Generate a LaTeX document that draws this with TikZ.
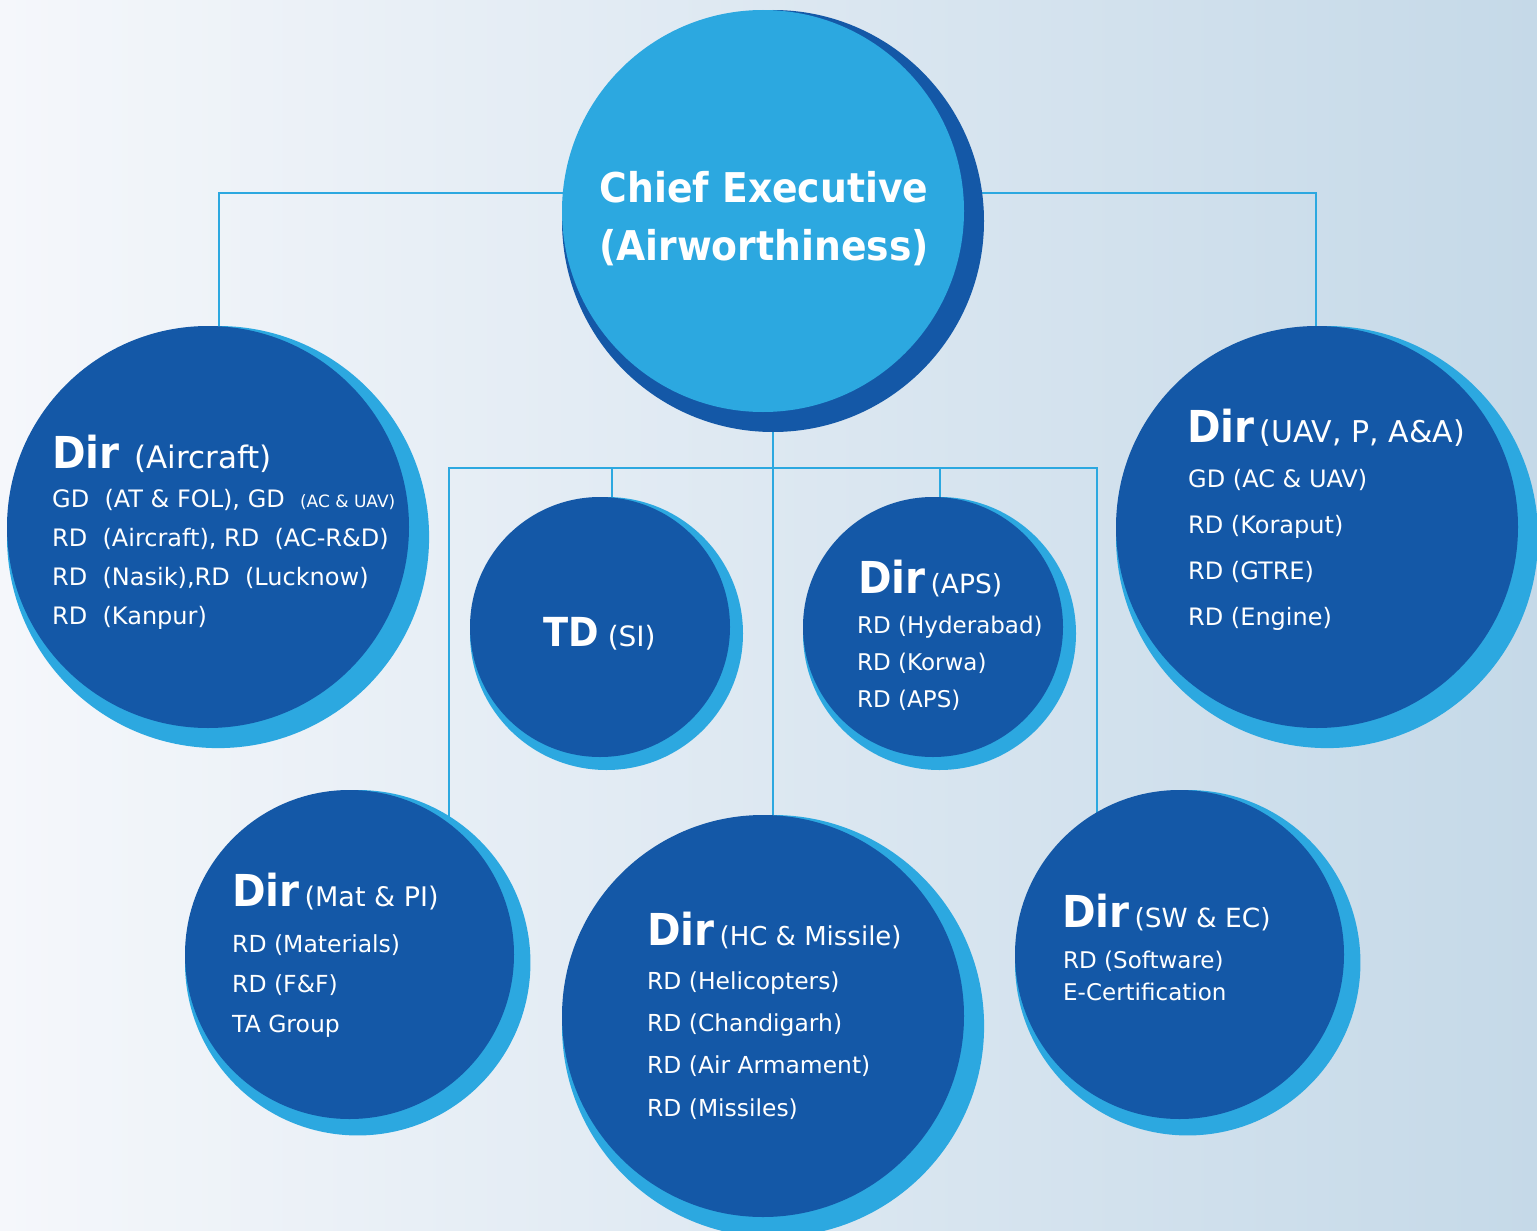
\documentclass[tikz,border=0pt]{standalone}
\usepackage{fontspec}
\setmainfont{DejaVu Sans}[BoldFeatures={FakeStretch=0.92}]
\usetikzlibrary{calc}
\definecolor{skyblue}{HTML}{2CA8E0}
\definecolor{navy}{HTML}{1458A7}
\definecolor{bgleft}{HTML}{F5F7FB}
\definecolor{bgright}{HTML}{C5D9E8}
\pgfdeclarelayer{bg}
\pgfsetlayers{bg,main}
\newcommand\dirhead[2]{{\bfseries\fontsize{44}{48}\selectfont Dir}\hspace{5pt}{\fontsize{#1}{#1}\selectfont#2}}

\begin{document}
\begin{tikzpicture}[x=1pt,y=-1pt,
  unit/.style={circle, inner sep=0, minimum size=#1, fill=navy},
  head/.style={text=white, inner sep=0, anchor=base west},
  items/.style 2 args={text=white, inner sep=0, anchor=base west, align=left, font=\fontsize{#1}{#2}\selectfont},
  link/.style={draw=skyblue, line width=2.2pt}]
\useasboundingbox (0,0) rectangle (1537,1231);

% circles
\node[unit=402pt, fill=skyblue] (chief) at (763,211) {};
\node[unit=402pt] (air) at (208,527) {};
\node[unit=402pt] (uav) at (1317,527) {};
\node[unit=260pt] (td) at (600,627) {};
\node[unit=260pt] (aps) at (933,627) {};
\node[unit=329pt] (mat) at (349.5,954.5) {};
\node[unit=402pt] (hc) at (763,1016) {};
\node[unit=329pt] (sw) at (1179.5,954.5) {};

% texts (multi-line nodes sit on their last baseline)
\node[text=white, anchor=base, align=center, inner sep=0,
  font=\bfseries\fontsize{41}{58}\selectfont] (chief-t) at (764,260)
  {Chief Executive\\(Airworthiness)};

\node[head] (air-t) at (52,468) {\dirhead{31}{\ (Aircraft)}};
\node[items={24}{39}] (air-l) at (52,624)
  {GD\ \ (AT \& FOL), GD\ \ {\fontsize{17}{17}\selectfont(AC \& UAV)}\\
   RD\ \ (Aircraft), RD\ \ (AC-R\&D)\\
   RD\ \ (Nasik),RD\ \ (Lucknow)\\
   RD\ \ (Kanpur)};

\node[head] (uav-t) at (1187,442) {\dirhead{30}{(UAV, P, A\&A)}};
\node[items={24}{46}] (uav-l) at (1188,625)
  {GD (AC \& UAV)\\RD (Koraput)\\RD (GTRE)\\RD (Engine)};

\node[head] (td-t) at (543,646)
  {{\bfseries\fontsize{40}{40}\selectfont TD}{\fontsize{28}{28}\selectfont\ (SI)}};

\node[head] (aps-t) at (858,593) {\dirhead{26.5}{(APS)}};
\node[items={23}{37}] (aps-l) at (857,707)
  {RD (Hyderabad)\\RD (Korwa)\\RD (APS)};

\node[head] (mat-t) at (232,906) {\dirhead{27}{(Mat \& PI)}};
\node[items={23.5}{40}] (mat-l) at (232,1032)
  {RD (Materials)\\RD (F\&F)\\TA Group};

\node[head] (hc-t) at (647,945) {\dirhead{26}{(HC \& Missile)}};
\node[items={23.4}{42.3}] (hc-l) at (647,1116)
  {RD (Helicopters)\\RD (Chandigarh)\\RD (Air Armament)\\RD (Missiles)};

\node[head] (sw-t) at (1062,927) {\dirhead{26.4}{(SW \& EC)}};
\node[items={23}{32}] (sw-l) at (1063,1000)
  {RD (Software)\\E-Certification};

\begin{pgfonlayer}{bg}
\shade[left color=bgleft, right color=bgright] (0,0) rectangle (1537,1231);

% connectors
\coordinate (lt) at (219,193);
\coordinate (rt) at (1316,193);
\coordinate (bus) at (773,468);
\coordinate (busl) at (449,468);
\coordinate (busr) at (1097,468);
\coordinate (tdj) at (612,468);
\coordinate (apsj) at (940,468);
\draw[link] (chief.center |- lt) -- (lt) -- (lt |- air.center);
\draw[link] (chief.center |- rt) -- (rt) -- (rt |- uav.center);
\draw[link] (bus |- chief.center) -- (bus |- hc.center);
\draw[link] (busl |- mat.center) -- (busl) -- (busr) -- (busr |- sw.center);
\draw[link] (tdj) -- (tdj |- td.center);
\draw[link] (apsj) -- (apsj |- aps.center);

% halos
\fill[navy] ($(chief.center)+(10,10)$) circle (211pt);
\foreach \n/\r in {air/201, uav/201, td/130, aps/130, mat/164.5, hc/201, sw/164.5}
  \fill[skyblue] ($(\n.center)+(0.05*\r,0.05*\r)$) circle ({1.05*\r pt});
\end{pgfonlayer}
\end{tikzpicture}
\end{document}
